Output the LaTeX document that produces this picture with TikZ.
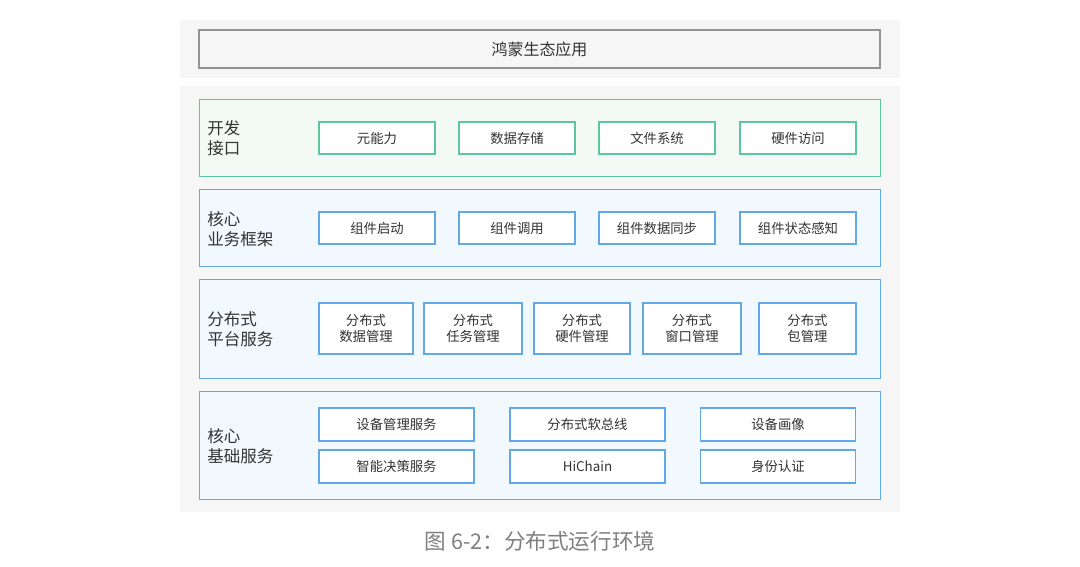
\documentclass[tikz,border=0pt]{standalone}
\usepackage{fontspec}
\setmainfont{Noto Sans CJK SC}
\begin{document}
\begin{tikzpicture}[x=0.02cm,y=-0.02cm,
  layer/.style={draw=#1,line width=0.7pt,anchor=north west,inner sep=0pt},
  item/.style={draw=#1,fill=white,line width=0.7pt,text=txt,font=\fontsize{7.6}{9.5}\selectfont,align=center,inner sep=0pt},
  lab/.style={anchor=west,text=txt,font=\fontsize{9.4}{11.5}\selectfont,align=left,inner sep=0pt}]
\definecolor{bggray}{HTML}{F6F6F6}
\definecolor{txt}{HTML}{333333}
\definecolor{grn}{HTML}{5CC6A3}
\definecolor{grnfill}{HTML}{F3FAF6}
\definecolor{blu}{HTML}{62A8E6}
\definecolor{blufill}{HTML}{F1F8FE}
\definecolor{capgray}{HTML}{808080}
\def\u{0.02cm}
\useasboundingbox[fill=white] (0,0) rectangle (1080,567);
% backgrounds
\fill[bggray] (180,20) rectangle (900,78);
\fill[bggray] (180,86) rectangle (900,512);
% top
\node[draw=gray!85,fill=bggray,line width=0.8pt,minimum width=681*\u,minimum height=38*\u,inner sep=0pt,text=txt,font=\fontsize{9.1}{11}\selectfont] (app) at (539.5,49) {鸿蒙生态应用};
% layer 1
\node[layer=grn,fill=grnfill,minimum width=681*\u,minimum height=77*\u] (l1) at (199,99) {};
\node[lab] (l1t) at (207,138) {开发\\接口};
\foreach \n/\x/\t in {a/377/元能力,b/517/数据存储,c/657/文件系统,d/798/硬件访问}
  \node[item=grn,minimum width=116*\u,minimum height=32*\u] (l1\n) at (\x,138) {\t};
% layer 2
\node[layer=blu,fill=blufill,minimum width=681*\u,minimum height=77*\u] (l2) at (199,189) {};
\node[lab] (l2t) at (207,229) {核心\\业务框架};
\foreach \n/\x/\t in {a/377/组件启动,b/517/组件调用,c/657/组件数据同步,d/798/组件状态感知}
  \node[item=blu,minimum width=116*\u,minimum height=32*\u] (l2\n) at (\x,228) {\t};
% layer 3
\node[layer=blu,fill=blufill,minimum width=681*\u,minimum height=99*\u] (l3) at (199,279) {};
\node[lab] (l3t) at (207,329) {分布式\\平台服务};
\foreach \n/\x/\w/\t in {a/366/94/数据管理,b/473/98/任务管理,c/582/96/硬件管理,d/692/98/窗口管理,e/807.5/97/包管理}
  \node[item=blu,minimum width=\w*\u,minimum height=51*\u] (l3\n) at (\x,328.5) {分布式\\\t};
% layer 4
\node[layer=blu,fill=blufill,minimum width=681*\u,minimum height=108*\u] (l4) at (199,391) {};
\node[lab] (l4t) at (207,446) {核心\\基础服务};
\foreach \n/\x/\y/\t in {a/396.5/424.5/设备管理服务,b/587.5/424.5/分布式软总线,c/778/424.5/设备画像,d/396.5/466.5/智能决策服务,e/587.5/466.5/HiChain,f/778/466.5/身份认证}
  \node[item=blu,minimum width=155*\u,minimum height=33*\u] (l4\n) at (\x,\y) {\t};
% caption
\node[text=capgray,font=\fontsize{12.3}{14}\selectfont,inner sep=0pt] (cap) at (540,541) {图 6-2：分布式运行环境};
\end{tikzpicture}
\end{document}
